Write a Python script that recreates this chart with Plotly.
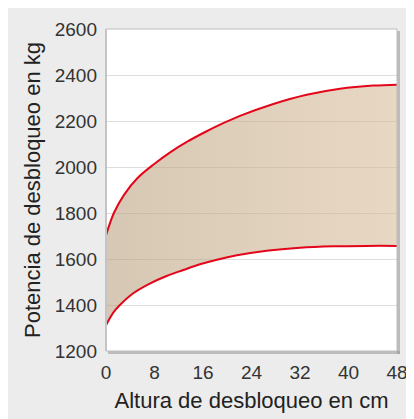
import plotly.graph_objects as go

# Data
upper_x = [0, 1.3, 3, 5.2, 7.9, 10.7, 13.4, 16.2, 18.9, 22.1, 27.6, 33.1, 38.6, 44.1, 48]
upper_y = [1703, 1800, 1880, 1952, 2012, 2066, 2110, 2150, 2185, 2222, 2274, 2314, 2340, 2354, 2358]
lower_x = [0, 1.2, 2.3, 4.5, 7.3, 10, 12.75, 15.5, 18.3, 21.6, 26.5, 32, 37.5, 43, 48]
lower_y = [1312, 1367, 1400, 1451, 1494, 1526, 1552, 1577, 1597, 1616, 1636, 1649, 1655, 1657, 1657]
x_ticks = [0, 8, 16, 24, 32, 40, 48]
y_ticks = [1200, 1400, 1600, 1800, 2000, 2200, 2400, 2600]

W, H = 414, 419
L, R, T, B = 98, 25, 21, 76
pw, ph = W - L - R, H - T - B

def px(x):
    return (x - L) / pw

def py(y):
    return (H - B - y) / ph

red = "#e3061b"
font = "Liberation Sans, Arial, sans-serif"

fig = go.Figure()
fig.add_trace(go.Scatter(x=lower_x, y=lower_y, mode="lines",
                         line=dict(color=red, width=2, shape="spline", smoothing=1.0),
                         hoverinfo="skip", showlegend=False))
fig.add_trace(go.Scatter(x=upper_x, y=upper_y, mode="lines",
                         line=dict(color=red, width=2, shape="spline", smoothing=1.0),
                         fill="tonexty",
                         fillgradient=dict(type="horizontal",
                                           colorscale=[[0, "rgba(187,163,130,0.6)"], [1, "rgba(217,190,155,0.6)"]]),
                         hoverinfo="skip", showlegend=False))

right_px = L + pw
bottom_px = T + ph
shapes = [
    # shadow right & bottom
    dict(type="rect", xref="paper", yref="paper", x0=px(right_px), x1=px(right_px + 3),
         y0=py(bottom_px + 3), y1=py(T + 2),
         fillcolor="rgba(150,150,150,0.55)", line=dict(width=0), layer="above"),
    dict(type="rect", xref="paper", yref="paper", x0=px(L + 2), x1=px(right_px + 3),
         y0=py(bottom_px + 3), y1=py(bottom_px),
         fillcolor="rgba(150,150,150,0.55)", line=dict(width=0), layer="above"),
    # frame
    dict(type="rect", xref="paper", yref="paper", x0=0, x1=1, y0=0, y1=1,
         line=dict(color="#bdbdbd", width=1), layer="above"),
    dict(type="line", xref="paper", yref="paper", x0=0, x1=0, y0=0, y1=1,
         line=dict(color="#c4c4c4", width=2), layer="above"),
]

fig.update_layout(
    width=W, height=H,
    margin=dict(l=L, r=R, t=T, b=B, autoexpand=False),
    paper_bgcolor="#ececec",
    plot_bgcolor="white",
    shapes=shapes,
    font=dict(family=font, color="#333333"),
    xaxis=dict(range=[0, 48], tickvals=x_ticks, showgrid=False, zeroline=False, showline=False,
               ticks="", tickfont=dict(size=19, color="#333333"), ticklabelstandoff=8,
               automargin=False,
               title=dict(text="Altura de desbloqueo en cm", font=dict(size=22, color="#222222"), standoff=10),
               fixedrange=True),
    yaxis=dict(range=[1200, 2600], tickvals=y_ticks, showgrid=True, gridcolor="#dddddd", gridwidth=1,
               zeroline=False, showline=False, ticks="", tickfont=dict(size=19, color="#333333"),
               ticklabelstandoff=8, automargin=False,
               title=dict(text="Potencia de desbloqueo en kg", font=dict(size=22, color="#222222"), standoff=8),
               fixedrange=True),
)

fig.write_html("out.html")
